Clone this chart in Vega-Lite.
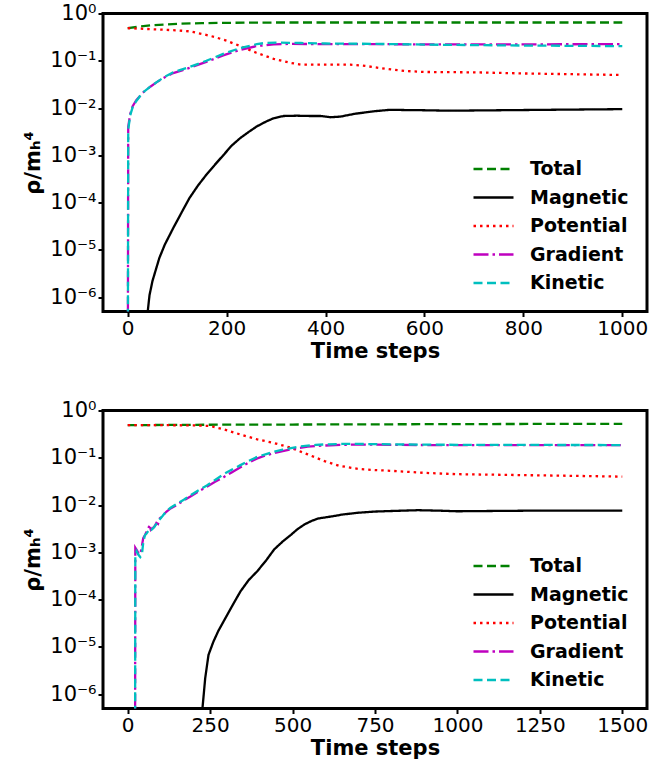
{
  "$schema": "https://vega.github.io/schema/vega-lite/v6.json",
  "padding": {"left": 21, "top": 0.5, "right": 5, "bottom": 0},
  "bounds": "flush",
  "spacing": 99,
  "datasets": {
    "top": [
      {"series":"Total","step":0,"rho":0.49},{"series":"Total","step":25,"rho":0.53},{"series":"Total","step":50,"rho":0.565},{"series":"Total","step":100,"rho":0.605},{"series":"Total","step":150,"rho":0.625},{"series":"Total","step":200,"rho":0.635},{"series":"Total","step":300,"rho":0.645},{"series":"Total","step":500,"rho":0.645},{"series":"Total","step":700,"rho":0.645},{"series":"Total","step":1000,"rho":0.645},
      {"series":"Magnetic","step":40,"rho":4.5e-7},{"series":"Magnetic","step":44,"rho":1.1e-6},{"series":"Magnetic","step":50,"rho":2.2e-6},{"series":"Magnetic","step":58,"rho":4.2e-6},{"series":"Magnetic","step":64,"rho":6.8e-6},{"series":"Magnetic","step":75,"rho":1.3e-5},{"series":"Magnetic","step":92,"rho":2.9e-5},{"series":"Magnetic","step":110,"rho":6.5e-5},{"series":"Magnetic","step":125,"rho":1.26e-4},{"series":"Magnetic","step":142,"rho":2.3e-4},{"series":"Magnetic","step":159,"rho":3.9e-4},{"series":"Magnetic","step":176,"rho":6.3e-4},{"series":"Magnetic","step":193,"rho":1.0e-3},{"series":"Magnetic","step":210,"rho":1.6e-3},{"series":"Magnetic","step":227,"rho":2.3e-3},{"series":"Magnetic","step":244,"rho":3.1e-3},{"series":"Magnetic","step":261,"rho":4.1e-3},{"series":"Magnetic","step":280,"rho":5.2e-3},{"series":"Magnetic","step":295,"rho":6.1e-3},{"series":"Magnetic","step":315,"rho":6.8e-3},{"series":"Magnetic","step":342,"rho":6.9e-3},{"series":"Magnetic","step":370,"rho":6.8e-3},{"series":"Magnetic","step":390,"rho":6.8e-3},{"series":"Magnetic","step":410,"rho":6.4e-3},{"series":"Magnetic","step":430,"rho":6.6e-3},{"series":"Magnetic","step":460,"rho":7.6e-3},{"series":"Magnetic","step":500,"rho":8.6e-3},{"series":"Magnetic","step":530,"rho":9.2e-3},{"series":"Magnetic","step":560,"rho":9.1e-3},{"series":"Magnetic","step":600,"rho":9.0e-3},{"series":"Magnetic","step":650,"rho":8.8e-3},{"series":"Magnetic","step":700,"rho":8.9e-3},{"series":"Magnetic","step":800,"rho":9.1e-3},{"series":"Magnetic","step":900,"rho":9.3e-3},{"series":"Magnetic","step":1000,"rho":9.5e-3},
      {"series":"Potential","step":0,"rho":0.49},{"series":"Potential","step":50,"rho":0.465},{"series":"Potential","step":100,"rho":0.44},{"series":"Potential","step":125,"rho":0.42},{"series":"Potential","step":150,"rho":0.37},{"series":"Potential","step":175,"rho":0.32},{"series":"Potential","step":200,"rho":0.265},{"series":"Potential","step":230,"rho":0.2},{"series":"Potential","step":260,"rho":0.148},{"series":"Potential","step":295,"rho":0.11},{"series":"Potential","step":330,"rho":0.09},{"series":"Potential","step":350,"rho":0.083},{"series":"Potential","step":400,"rho":0.083},{"series":"Potential","step":450,"rho":0.083},{"series":"Potential","step":480,"rho":0.078},{"series":"Potential","step":520,"rho":0.068},{"series":"Potential","step":560,"rho":0.061},{"series":"Potential","step":600,"rho":0.058},{"series":"Potential","step":700,"rho":0.057},{"series":"Potential","step":800,"rho":0.054},{"series":"Potential","step":900,"rho":0.052},{"series":"Potential","step":1000,"rho":0.05},
      {"series":"Gradient","step":0,"rho":1e-9},{"series":"Gradient","step":1,"rho":0.004},{"series":"Gradient","step":5,"rho":0.0075},{"series":"Gradient","step":10,"rho":0.011},{"series":"Gradient","step":17,"rho":0.0145},{"series":"Gradient","step":30,"rho":0.021},{"series":"Gradient","step":45,"rho":0.028},{"series":"Gradient","step":58,"rho":0.035},{"series":"Gradient","step":75,"rho":0.045},{"series":"Gradient","step":92,"rho":0.055},{"series":"Gradient","step":110,"rho":0.063},{"series":"Gradient","step":125,"rho":0.071},{"series":"Gradient","step":159,"rho":0.095},{"series":"Gradient","step":193,"rho":0.13},{"series":"Gradient","step":227,"rho":0.17},{"series":"Gradient","step":261,"rho":0.205},{"series":"Gradient","step":295,"rho":0.222},{"series":"Gradient","step":330,"rho":0.228},{"series":"Gradient","step":400,"rho":0.225},{"series":"Gradient","step":500,"rho":0.225},{"series":"Gradient","step":600,"rho":0.222},{"series":"Gradient","step":700,"rho":0.222},{"series":"Gradient","step":800,"rho":0.222},{"series":"Gradient","step":900,"rho":0.224},{"series":"Gradient","step":1000,"rho":0.225},
      {"series":"Kinetic","step":0,"rho":1e-9},{"series":"Kinetic","step":1,"rho":0.0035},{"series":"Kinetic","step":5,"rho":0.007},{"series":"Kinetic","step":10,"rho":0.0105},{"series":"Kinetic","step":17,"rho":0.014},{"series":"Kinetic","step":30,"rho":0.021},{"series":"Kinetic","step":45,"rho":0.028},{"series":"Kinetic","step":58,"rho":0.035},{"series":"Kinetic","step":75,"rho":0.046},{"series":"Kinetic","step":92,"rho":0.057},{"series":"Kinetic","step":110,"rho":0.066},{"series":"Kinetic","step":125,"rho":0.074},{"series":"Kinetic","step":159,"rho":0.1},{"series":"Kinetic","step":193,"rho":0.14},{"series":"Kinetic","step":227,"rho":0.185},{"series":"Kinetic","step":261,"rho":0.225},{"series":"Kinetic","step":280,"rho":0.24},{"series":"Kinetic","step":300,"rho":0.242},{"series":"Kinetic","step":350,"rho":0.238},{"series":"Kinetic","step":400,"rho":0.232},{"series":"Kinetic","step":500,"rho":0.228},{"series":"Kinetic","step":600,"rho":0.22},{"series":"Kinetic","step":700,"rho":0.215},{"series":"Kinetic","step":800,"rho":0.21},{"series":"Kinetic","step":900,"rho":0.207},{"series":"Kinetic","step":1000,"rho":0.204}
    ],
    "bottom": [
      {"series":"Total","step":0,"rho":0.49},{"series":"Total","step":250,"rho":0.5},{"series":"Total","step":500,"rho":0.505},{"series":"Total","step":750,"rho":0.51},{"series":"Total","step":1000,"rho":0.515},{"series":"Total","step":1250,"rho":0.52},{"series":"Total","step":1500,"rho":0.52},
      {"series":"Magnetic","step":226,"rho":4.5e-7},{"series":"Magnetic","step":230,"rho":9e-7},{"series":"Magnetic","step":235,"rho":2.2e-6},{"series":"Magnetic","step":245,"rho":6.8e-6},{"series":"Magnetic","step":260,"rho":1.3e-5},{"series":"Magnetic","step":275,"rho":2.2e-5},{"series":"Magnetic","step":291,"rho":3.5e-5},{"series":"Magnetic","step":315,"rho":7e-5},{"series":"Magnetic","step":342,"rho":1.5e-4},{"series":"Magnetic","step":367,"rho":2.6e-4},{"series":"Magnetic","step":393,"rho":4.0e-4},{"series":"Magnetic","step":420,"rho":6.8e-4},{"series":"Magnetic","step":444,"rho":1.15e-3},{"series":"Magnetic","step":470,"rho":1.7e-3},{"series":"Magnetic","step":495,"rho":2.35e-3},{"series":"Magnetic","step":515,"rho":3.1e-3},{"series":"Magnetic","step":536,"rho":3.9e-3},{"series":"Magnetic","step":557,"rho":4.6e-3},{"series":"Magnetic","step":577,"rho":5.2e-3},{"series":"Magnetic","step":600,"rho":5.5e-3},{"series":"Magnetic","step":628,"rho":5.9e-3},{"series":"Magnetic","step":650,"rho":6.3e-3},{"series":"Magnetic","step":700,"rho":6.9e-3},{"series":"Magnetic","step":750,"rho":7.3e-3},{"series":"Magnetic","step":800,"rho":7.5e-3},{"series":"Magnetic","step":880,"rho":7.8e-3},{"series":"Magnetic","step":950,"rho":7.6e-3},{"series":"Magnetic","step":1000,"rho":7.4e-3},{"series":"Magnetic","step":1100,"rho":7.5e-3},{"series":"Magnetic","step":1200,"rho":7.6e-3},{"series":"Magnetic","step":1300,"rho":7.6e-3},{"series":"Magnetic","step":1400,"rho":7.6e-3},{"series":"Magnetic","step":1500,"rho":7.6e-3},
      {"series":"Potential","step":0,"rho":0.49},{"series":"Potential","step":100,"rho":0.49},{"series":"Potential","step":200,"rho":0.485},{"series":"Potential","step":250,"rho":0.47},{"series":"Potential","step":291,"rho":0.4},{"series":"Potential","step":342,"rho":0.31},{"series":"Potential","step":393,"rho":0.245},{"series":"Potential","step":444,"rho":0.205},{"series":"Potential","step":495,"rho":0.163},{"series":"Potential","step":546,"rho":0.118},{"series":"Potential","step":597,"rho":0.085},{"series":"Potential","step":640,"rho":0.068},{"series":"Potential","step":700,"rho":0.058},{"series":"Potential","step":750,"rho":0.055},{"series":"Potential","step":800,"rho":0.053},{"series":"Potential","step":900,"rho":0.048},{"series":"Potential","step":1000,"rho":0.045},{"series":"Potential","step":1100,"rho":0.044},{"series":"Potential","step":1200,"rho":0.043},{"series":"Potential","step":1300,"rho":0.042},{"series":"Potential","step":1400,"rho":0.041},{"series":"Potential","step":1500,"rho":0.04},
      {"series":"Gradient","step":22,"rho":1e-9},{"series":"Gradient","step":23,"rho":1.25e-3},{"series":"Gradient","step":28,"rho":1.1e-3},{"series":"Gradient","step":33,"rho":9.5e-4},{"series":"Gradient","step":38,"rho":9.0e-4},{"series":"Gradient","step":42,"rho":1.25e-3},{"series":"Gradient","step":47,"rho":2.0e-3},{"series":"Gradient","step":52,"rho":2.3e-3},{"series":"Gradient","step":57,"rho":2.7e-3},{"series":"Gradient","step":62,"rho":3.0e-3},{"series":"Gradient","step":66,"rho":3.9e-3},{"series":"Gradient","step":70,"rho":3.0e-3},{"series":"Gradient","step":77,"rho":3.3e-3},{"series":"Gradient","step":82,"rho":3.6e-3},{"series":"Gradient","step":87,"rho":4.2e-3},{"series":"Gradient","step":92,"rho":4.0e-3},{"series":"Gradient","step":97,"rho":5.2e-3},{"series":"Gradient","step":105,"rho":5.8e-3},{"series":"Gradient","step":117,"rho":7.2e-3},{"series":"Gradient","step":130,"rho":8.5e-3},{"series":"Gradient","step":148,"rho":1.0e-2},{"series":"Gradient","step":170,"rho":1.25e-2},{"series":"Gradient","step":189,"rho":1.5e-2},{"series":"Gradient","step":215,"rho":1.95e-2},{"series":"Gradient","step":240,"rho":2.45e-2},{"series":"Gradient","step":265,"rho":3.1e-2},{"series":"Gradient","step":291,"rho":3.9e-2},{"series":"Gradient","step":315,"rho":4.9e-2},{"series":"Gradient","step":342,"rho":6.3e-2},{"series":"Gradient","step":365,"rho":7.8e-2},{"series":"Gradient","step":393,"rho":9.7e-2},{"series":"Gradient","step":420,"rho":0.113},{"series":"Gradient","step":444,"rho":0.126},{"series":"Gradient","step":470,"rho":0.138},{"series":"Gradient","step":495,"rho":0.15},{"series":"Gradient","step":520,"rho":0.162},{"series":"Gradient","step":546,"rho":0.172},{"series":"Gradient","step":570,"rho":0.178},{"series":"Gradient","step":600,"rho":0.182},{"series":"Gradient","step":650,"rho":0.188},{"series":"Gradient","step":700,"rho":0.19},{"series":"Gradient","step":750,"rho":0.19},{"series":"Gradient","step":800,"rho":0.188},{"series":"Gradient","step":900,"rho":0.186},{"series":"Gradient","step":1000,"rho":0.185},{"series":"Gradient","step":1200,"rho":0.185},{"series":"Gradient","step":1500,"rho":0.185},
      {"series":"Kinetic","step":22,"rho":1e-9},{"series":"Kinetic","step":23,"rho":8e-4},{"series":"Kinetic","step":27,"rho":1.05e-3},{"series":"Kinetic","step":32,"rho":9e-4},{"series":"Kinetic","step":38,"rho":8e-4},{"series":"Kinetic","step":43,"rho":9e-4},{"series":"Kinetic","step":47,"rho":1.6e-3},{"series":"Kinetic","step":52,"rho":2.3e-3},{"series":"Kinetic","step":57,"rho":2.5e-3},{"series":"Kinetic","step":62,"rho":2.8e-3},{"series":"Kinetic","step":67,"rho":3.2e-3},{"series":"Kinetic","step":72,"rho":3.0e-3},{"series":"Kinetic","step":80,"rho":3.4e-3},{"series":"Kinetic","step":87,"rho":4.0e-3},{"series":"Kinetic","step":95,"rho":4.8e-3},{"series":"Kinetic","step":105,"rho":5.8e-3},{"series":"Kinetic","step":117,"rho":7.4e-3},{"series":"Kinetic","step":130,"rho":8.8e-3},{"series":"Kinetic","step":148,"rho":1.05e-2},{"series":"Kinetic","step":170,"rho":1.3e-2},{"series":"Kinetic","step":189,"rho":1.6e-2},{"series":"Kinetic","step":215,"rho":2.05e-2},{"series":"Kinetic","step":240,"rho":2.6e-2},{"series":"Kinetic","step":265,"rho":3.4e-2},{"series":"Kinetic","step":291,"rho":4.5e-2},{"series":"Kinetic","step":315,"rho":5.6e-2},{"series":"Kinetic","step":342,"rho":7.0e-2},{"series":"Kinetic","step":365,"rho":8.5e-2},{"series":"Kinetic","step":393,"rho":0.105},{"series":"Kinetic","step":420,"rho":0.12},{"series":"Kinetic","step":444,"rho":0.135},{"series":"Kinetic","step":470,"rho":0.148},{"series":"Kinetic","step":495,"rho":0.16},{"series":"Kinetic","step":520,"rho":0.172},{"series":"Kinetic","step":546,"rho":0.18},{"series":"Kinetic","step":570,"rho":0.187},{"series":"Kinetic","step":600,"rho":0.192},{"series":"Kinetic","step":650,"rho":0.196},{"series":"Kinetic","step":700,"rho":0.196},{"series":"Kinetic","step":750,"rho":0.195},{"series":"Kinetic","step":800,"rho":0.192},{"series":"Kinetic","step":900,"rho":0.19},{"series":"Kinetic","step":1000,"rho":0.188},{"series":"Kinetic","step":1200,"rho":0.187},{"series":"Kinetic","step":1500,"rho":0.186}
    ]
  },
  "vconcat": [
    {
      "width": 544, "height": 298,
      "data": {"name": "top"},
      "mark": {"type": "line", "clip": true, "strokeWidth": 2.3},
      "encoding": {
        "x": {"field": "step", "type": "quantitative", "scale": {"domain": [-50, 1050], "nice": false, "zero": false},
              "axis": {"values": [0, 200, 400, 600, 800, 1000], "format": "d", "title": "Time steps"}},
        "y": {"field": "rho", "type": "quantitative", "scale": {"type": "log", "domain": [5e-7, 1], "nice": false},
              "axis": {"values": [1e-6, 1e-5, 1e-4, 1e-3, 1e-2, 1e-1, 1], "title": "ρ/mₕ⁴",
                       "labelExpr": "['10⁰','10⁻¹','10⁻²','10⁻³','10⁻⁴','10⁻⁵','10⁻⁶'][round(-log(datum.value)/LN10)]"}},
        "color": {"field": "series", "type": "nominal",
                  "scale": {"domain": ["Total", "Magnetic", "Potential", "Gradient", "Kinetic"], "range": ["#008000", "#000000", "#ff0000", "#bf00bf", "#00bfbf"]},
                  "legend": {"title": null, "orient": "none", "legendX": 379, "legendY": 144}},
        "strokeDash": {"field": "series", "type": "nominal",
                  "scale": {"domain": ["Total", "Magnetic", "Potential", "Gradient", "Kinetic"], "range": [[9, 4.5], [1, 0], [2.5, 4], [15, 4, 2.5, 4], [9, 4.5]]},
                  "legend": {"title": null, "orient": "none", "legendX": 379, "legendY": 144}}
      }
    },
    {
      "width": 544, "height": 298,
      "data": {"name": "bottom"},
      "mark": {"type": "line", "clip": true, "strokeWidth": 2.3},
      "encoding": {
        "x": {"field": "step", "type": "quantitative", "scale": {"domain": [-75, 1575], "nice": false, "zero": false},
              "axis": {"values": [0, 250, 500, 750, 1000, 1250, 1500], "format": "d", "title": "Time steps"}},
        "y": {"field": "rho", "type": "quantitative", "scale": {"type": "log", "domain": [5e-7, 1], "nice": false},
              "axis": {"values": [1e-6, 1e-5, 1e-4, 1e-3, 1e-2, 1e-1, 1], "title": "ρ/mₕ⁴",
                       "labelExpr": "['10⁰','10⁻¹','10⁻²','10⁻³','10⁻⁴','10⁻⁵','10⁻⁶'][round(-log(datum.value)/LN10)]"}},
        "color": {"field": "series", "type": "nominal",
                  "scale": {"domain": ["Total", "Magnetic", "Potential", "Gradient", "Kinetic"], "range": ["#008000", "#000000", "#ff0000", "#bf00bf", "#00bfbf"]},
                  "legend": {"title": null, "orient": "none", "legendX": 379, "legendY": 144}},
        "strokeDash": {"field": "series", "type": "nominal",
                  "scale": {"domain": ["Total", "Magnetic", "Potential", "Gradient", "Kinetic"], "range": [[9, 4.5], [1, 0], [2.5, 4], [15, 4, 2.5, 4], [9, 4.5]]},
                  "legend": {"title": null, "orient": "none", "legendX": 379, "legendY": 144}}
      }
    }
  ],
  "resolve": {
    "scale": {"x": "independent", "y": "independent", "color": "independent", "strokeDash": "independent"},
    "legend": {"color": "independent", "strokeDash": "independent"}
  },
  "config": {
    "font": "DejaVu Sans",
    "view": {"stroke": "#000000", "strokeWidth": 3},
    "axis": {
      "domain": false, "grid": false,
      "tickColor": "#000000", "tickWidth": 2, "tickSize": 5,
      "labelFont": "DejaVu Sans", "labelFontSize": 20, "labelColor": "#000000", "labelPadding": 2,
      "titleFont": "DejaVu Sans", "titleFontSize": 21, "titleFontWeight": "bold", "titleColor": "#000000"
    },
    "axisX": {"titlePadding": 2},
    "axisY": {"titlePadding": 6, "labelFlush": false, "labelFontSize": 21},
    "legend": {
      "symbolType": "M-2,0H2", "symbolSize": 400, "symbolStrokeWidth": 2.5,
      "labelFont": "DejaVu Sans", "labelFontSize": 19, "labelFontWeight": "bold", "labelColor": "#000000",
      "labelOffset": 25, "rowPadding": 6.5, "padding": 0
    }
  }
}
